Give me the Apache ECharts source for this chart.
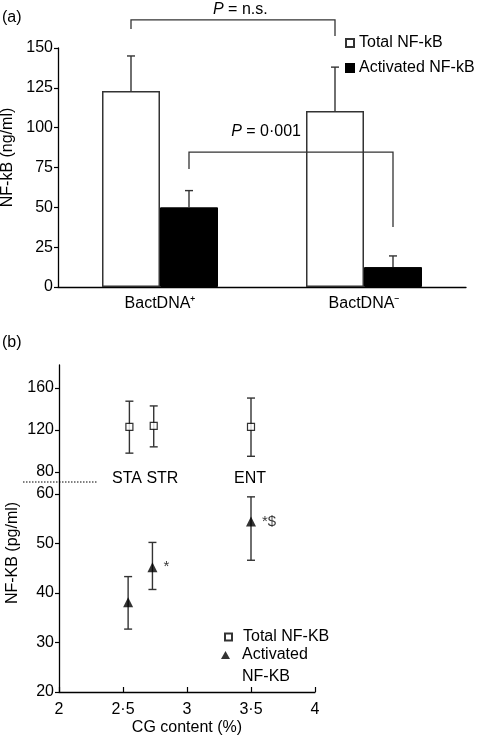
<!DOCTYPE html>
<html><head><meta charset="utf-8">
<script src="https://cdn.jsdelivr.net/npm/echarts@6/dist/echarts.min.js"></script>
<style>html,body{margin:0;padding:0;background:#fff}#c{width:477px;height:737px}</style>
</head><body><div id="c"></div>
<script>
// ---------- Panel (a) data ----------
const groups = ['BactDNA\u207A', 'BactDNA\u207B'];
const totalMean = [123, 110.5];
const totalUpper = [145, 138];
const activatedMean = [50, 12.5];
const activatedUpper = [60.5, 19.5];
const yTicksA = [0, 25, 50, 75, 100, 125, 150];
// significance brackets: [catFrom, catTo, topLevel, leftLegEnd, rightLegEnd]
const bracketTotal = [0, 1, 167.6, 162, 157.6];
const bracketActivated = [0, 1, 84.7, 74.1, 37.7];

// ---------- Panel (b) data ----------
const cgTotal = [2.55, 2.74, 3.5];
const totalB = [123, 124, 123];
const totalBLow = [98, 104, 95];
const totalBHigh = [147.5, 143, 150.5];
const cgAct = [2.54, 2.73, 3.5];
const actB = [38.1, 45.2, 54.4];
const actBLow = [32.7, 40.7, 46.6];
const actBHigh = [43.3, 50.2, 59.4];
const actMarks = ['', '*', '*$'];
const yTicksBUpper = [80, 120, 160];
const yTicksBLower = [20, 30, 40, 50, 60];

// ---------- styling ----------
const FONT = '"Liberation Sans", Arial, Helvetica, sans-serif';
const BAR_W = 58;
const CAP = 4;
const ERR_COLOR = '#333';

const chart = echarts.init(document.getElementById('c'), null, {renderer: 'canvas'});

function errA(sign) {
  return function (params, api) {
    const c = api.coord([api.value(0), api.value(1)]);
    const u = api.coord([api.value(0), api.value(2)]);
    const x = c[0] + sign * BAR_W / 2;
    return {type: 'group', children: [
      {type: 'line', shape: {x1: x, y1: c[1], x2: x, y2: u[1]}, style: {stroke: ERR_COLOR, lineWidth: 1.4}},
      {type: 'line', shape: {x1: x - CAP, y1: u[1], x2: x + CAP, y2: u[1]}, style: {stroke: ERR_COLOR, lineWidth: 1.4}}
    ]};
  };
}
function bracketRender(sign) {
  return function (params, api) {
    const a = api.coord([api.value(0), api.value(2)]);
    const b = api.coord([api.value(1), api.value(2)]);
    const l1 = api.coord([api.value(0), api.value(3)]);
    const l2 = api.coord([api.value(1), api.value(4)]);
    const off = sign * BAR_W / 2;
    return {type: 'polyline', shape: {points: [
      [a[0] + off, l1[1]], [a[0] + off, a[1]], [b[0] + off, b[1]], [b[0] + off, l2[1]]
    ]}, style: {stroke: ERR_COLOR, lineWidth: 1.3, fill: null}};
  };
}
function errB(params, api) {
  const lo = api.coord([api.value(0), api.value(1)]);
  const hi = api.coord([api.value(0), api.value(2)]);
  const x = lo[0];
  const st = {stroke: ERR_COLOR, lineWidth: 1.4};
  return {type: 'group', children: [
    {type: 'line', shape: {x1: x, y1: lo[1], x2: x, y2: hi[1]}, style: st},
    {type: 'line', shape: {x1: x - CAP, y1: lo[1], x2: x + CAP, y2: lo[1]}, style: st},
    {type: 'line', shape: {x1: x - CAP, y1: hi[1], x2: x + CAP, y2: hi[1]}, style: st}
  ]};
}

const axisLineStyle = {color: '#000', width: 1.3};
const dec = v => String(v).replace('.', '\u00B7');

const option = {
  animation: false,
  backgroundColor: '#fff',
  textStyle: {fontFamily: FONT, color: '#000'},
  grid: [
    {left: 58, right: 11, top: 48, height: 239, containLabel: false, outerBoundsMode: 'none'},
    {left: 59, right: 162, top: 365, height: 117, containLabel: false, outerBoundsMode: 'none'},
    {left: 59, right: 162, top: 482, height: 210, containLabel: false, outerBoundsMode: 'none'}
  ],
  xAxis: [
    {gridIndex: 0, type: 'category', data: groups, boundaryGap: true,
      axisLine: {lineStyle: axisLineStyle},
      axisTick: {inside: true, length: 5, lineStyle: {color: '#000', width: 1.2}},
      axisLabel: {fontSize: 16, color: '#000', margin: 9, fontFamily: FONT}},
    {gridIndex: 1, type: 'value', min: 2, max: 4, show: false},
    {gridIndex: 2, type: 'value', min: 2, max: 4, interval: 0.5,
      name: 'CG content (%)', nameLocation: 'middle', nameGap: 28,
      nameTextStyle: {fontSize: 16, color: '#000', fontFamily: FONT},
      axisLine: {lineStyle: axisLineStyle},
      axisTick: {inside: true, length: 5, lineStyle: {color: '#000', width: 1.2}},
      axisLabel: {fontSize: 16, color: '#000', margin: 10, fontFamily: FONT, formatter: dec},
      splitLine: {show: false}}
  ],
  yAxis: [
    {gridIndex: 0, type: 'value', min: yTicksA[0], max: yTicksA[yTicksA.length - 1], interval: 25,
      name: 'NF-kB (ng/ml)', nameLocation: 'middle', nameGap: 37,
      nameTextStyle: {fontSize: 16, color: '#000', fontFamily: FONT, padding: [0, 0, 0, 20]},
      axisLine: {show: true, lineStyle: axisLineStyle},
      axisTick: {show: true, length: 4, lineStyle: {color: '#000', width: 1.2}},
      axisLabel: {fontSize: 16, color: '#000', margin: 5, fontFamily: FONT},
      splitLine: {show: false}},
    {gridIndex: 1, type: 'value', min: 70.5, max: 182,
      axisLine: {show: true, lineStyle: axisLineStyle},
      axisTick: {show: true, length: 4, customValues: yTicksBUpper, lineStyle: {color: '#000', width: 1.2}},
      axisLabel: {fontSize: 16, color: '#000', margin: 5, fontFamily: FONT, customValues: yTicksBUpper},
      splitLine: {show: false}},
    {gridIndex: 2, type: 'value', min: 20, max: 62.4, interval: 10,
      name: 'NF-KB (pg/ml)', nameLocation: 'middle', nameGap: 38,
      nameTextStyle: {fontSize: 16, color: '#000', fontFamily: FONT, padding: [0, 0, 0, 68]},
      axisLine: {show: true, lineStyle: axisLineStyle},
      axisTick: {show: true, length: 4, customValues: yTicksBLower, lineStyle: {color: '#000', width: 1.2}},
      axisLabel: {fontSize: 16, color: '#000', margin: 5, fontFamily: FONT, customValues: yTicksBLower},
      splitLine: {show: false}}
  ],
  legend: [
    {data: ['Total NF-kB', 'Activated NF-kB'], orient: 'vertical', left: 345, top: 34, padding: 0,
      itemWidth: 8, itemHeight: 8, itemGap: 7, icon: 'rect', selectedMode: false,
      textStyle: {fontSize: 16, lineHeight: 18, color: '#000', fontFamily: FONT}},
    {data: ['Total NF-KB'], orient: 'vertical', left: 224, top: 628, padding: 0,
      itemWidth: 7, itemHeight: 7, selectedMode: false,
      textStyle: {fontSize: 16, lineHeight: 18, color: '#000', fontFamily: FONT, padding: [0, 0, 0, 6]}},
    {data: ['Activated NF-KB'], orient: 'vertical', left: 221, top: 622, padding: 0,
      itemWidth: 9, itemHeight: 8, icon: 'triangle', selectedMode: false,
      formatter: n => '\n' + n.replace(' ', '\n'),
      textStyle: {fontSize: 16, lineHeight: 22, color: '#000', fontFamily: FONT, padding: [0, 0, 0, 7]}}
  ],
  series: [
    {name: 'Total NF-kB', type: 'bar', xAxisIndex: 0, yAxisIndex: 0, data: totalMean,
      barWidth: BAR_W, barGap: '0%',
      itemStyle: {color: '#fff', borderColor: '#333', borderWidth: 1.5}},
    {name: 'Activated NF-kB', type: 'bar', xAxisIndex: 0, yAxisIndex: 0, data: activatedMean,
      barWidth: BAR_W, barGap: '0%',
      itemStyle: {color: '#000', borderColor: '#000', borderWidth: 1}},
    {type: 'custom', xAxisIndex: 0, yAxisIndex: 0, renderItem: errA(-1), encode: {x: 0, y: [1, 2]},
      data: groups.map((g, i) => [i, totalMean[i], totalUpper[i]]), z: 3},
    {type: 'custom', xAxisIndex: 0, yAxisIndex: 0, renderItem: errA(1), encode: {x: 0, y: [1, 2]},
      data: groups.map((g, i) => [i, activatedMean[i], activatedUpper[i]]), z: 3},
    {type: 'custom', xAxisIndex: 0, yAxisIndex: 0, renderItem: bracketRender(-1), clip: false,
      encode: {x: [0, 1], y: [2, 3, 4]}, data: [bracketTotal], z: 3},
    {type: 'custom', xAxisIndex: 0, yAxisIndex: 0, renderItem: bracketRender(1), clip: false,
      encode: {x: [0, 1], y: [2, 3, 4]}, data: [bracketActivated], z: 3},
    {type: 'custom', xAxisIndex: 1, yAxisIndex: 1, renderItem: errB, encode: {x: 0, y: [1, 2]},
      data: cgTotal.map((x, i) => [x, totalBLow[i], totalBHigh[i]]), z: 2},
    {name: 'Total NF-KB', type: 'scatter', xAxisIndex: 1, yAxisIndex: 1,
      data: cgTotal.map((x, i) => [x, totalB[i]]), symbol: 'rect', symbolSize: 7,
      itemStyle: {color: '#fff', borderColor: '#000', borderWidth: 1.2}, z: 4},
    {type: 'custom', xAxisIndex: 2, yAxisIndex: 2, renderItem: errB, encode: {x: 0, y: [1, 2]},
      data: cgAct.map((x, i) => [x, actBLow[i], actBHigh[i]]), z: 2},
    {name: 'Activated NF-KB', type: 'scatter', xAxisIndex: 2, yAxisIndex: 2,
      data: cgAct.map((x, i) => [x, actB[i]]), symbol: 'triangle', symbolSize: [10, 10],
      itemStyle: {color: '#000'}, z: 4,
      label: {show: true, position: 'right', distance: 6, fontSize: 15, color: '#000', fontFamily: FONT,
        formatter: p => actMarks[p.dataIndex]}}
  ],
  graphic: [
    {type: 'text', x: 2, y: 18, style: {text: '(a)', fontSize: 16, fontFamily: FONT, fill: '#000', verticalAlign: 'middle'}},
    {type: 'text', x: 2, y: 343, style: {text: '(b)', fontSize: 16, fontFamily: FONT, fill: '#000', verticalAlign: 'middle'}},
    {type: 'text', x: 213, y: 10, style: {text: '{i|P} = n.s.', fontSize: 16, fontFamily: FONT, fill: '#000', verticalAlign: 'middle',
      rich: {i: {fontStyle: 'italic', fontSize: 16, fontFamily: FONT}}}},
    {type: 'text', x: 301, y: 132, style: {text: '{i|P} = 0\u00B7001', fontSize: 16, fontFamily: FONT, fill: '#000', align: 'right', verticalAlign: 'middle',
      rich: {i: {fontStyle: 'italic', fontSize: 16, fontFamily: FONT}}}},
    {type: 'text', x: 112, y: 479, style: {text: 'STA STR', fontSize: 16, fontFamily: FONT, fill: '#000', verticalAlign: 'middle'}},
    {type: 'text', x: 234, y: 479, style: {text: 'ENT', fontSize: 16, fontFamily: FONT, fill: '#000', verticalAlign: 'middle'}},
    {type: 'line', shape: {x1: 23, y1: 482, x2: 97, y2: 482}, style: {stroke: '#000', lineWidth: 1, lineDash: [1.5, 1.5]}}
  ]
};
chart.setOption(option);
</script>
</body></html>
